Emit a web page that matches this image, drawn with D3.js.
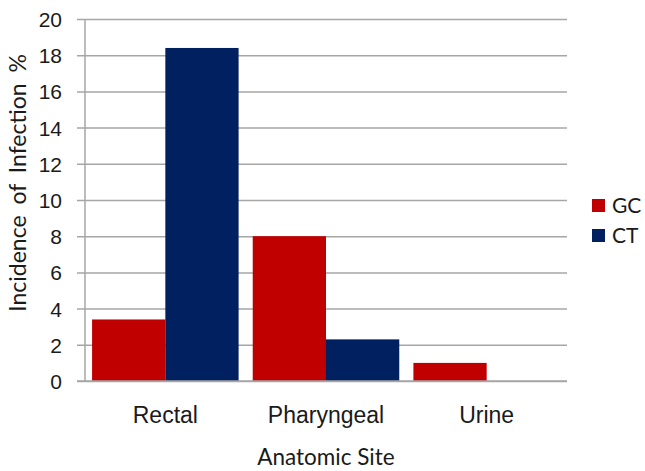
<!DOCTYPE html>
<html>
<head>
<meta charset="utf-8">
<script src="https://cdn.jsdelivr.net/npm/d3@7"></script>
<style>
  html, body { margin: 0; padding: 0; background: #fff; }
  svg { display: block; font-family: Lato, "Open Sans", sans-serif; }
</style>
</head>
<body>
<svg id="chart" width="645" height="471"></svg>
<script>
// Incidence of infection by anatomic site
const sites = ["Rectal", "Pharyngeal", "Urine"];
const seriesNames = ["GC", "CT"];
const gcValues = [3.4, 8.0, 1.0];
const ctValues = [18.4, 2.3, 0];
const yTicks = [0, 2, 4, 6, 8, 10, 12, 14, 16, 18, 20];
const colors = ["#c00000", "#002060"];

const svg = d3.select("#chart");
const plot = { left: 85, right: 567, top: 19, bottom: 381 };

const x = d3.scaleBand()
  .domain(sites)
  .range([plot.left, plot.right])
  .paddingInner(0.088)
  .paddingOuter(0.044);

const xSeries = d3.scaleBand()
  .domain(seriesNames)
  .range([0, x.bandwidth()]);

const y = d3.scaleLinear()
  .domain([0, 20])
  .range([plot.bottom, plot.top]);

const color = d3.scaleOrdinal().domain(seriesNames).range(colors);

// gridlines + left ticks
const yAxis = d3.axisLeft(y)
  .tickValues(yTicks)
  .tickFormat(d3.format("d"));

const gy = svg.append("g")
  .attr("transform", `translate(${plot.left},0)`)
  .call(yAxis);
gy.select(".domain").remove();
gy.selectAll(".tick line")
  .attr("x1", -8)
  .attr("x2", plot.right - plot.left)
  .attr("stroke", "#a6a6a6")
  .attr("stroke-width", 1.5);
gy.selectAll(".tick text")
  .attr("x", -23)
  .attr("dy", "0.36em")
  .attr("fill", "#1a1a1a")
  .style("font-size", "21px");

// vertical axis line
svg.append("line")
  .attr("x1", plot.left).attr("x2", plot.left)
  .attr("y1", y(20)).attr("y2", y(0))
  .attr("stroke", "#a6a6a6")
  .attr("stroke-width", 1.5);

// bars
const rows = sites.map((s, i) => ({ site: s, values: [
  { key: "GC", value: gcValues[i] },
  { key: "CT", value: ctValues[i] }
]}));

const groups = svg.append("g").selectAll("g")
  .data(rows)
  .join("g")
  .attr("transform", d => `translate(${x(d.site)},0)`);

groups.selectAll("rect")
  .data(d => d.values.filter(v => v.value > 0))
  .join("rect")
  .attr("x", d => xSeries(d.key))
  .attr("width", xSeries.bandwidth())
  .attr("y", d => y(d.value))
  .attr("height", d => y(0) - y(d.value))
  .attr("fill", d => color(d.key));

// bottom axis line
svg.append("line")
  .attr("x1", plot.left - 8).attr("x2", plot.right)
  .attr("y1", y(0)).attr("y2", y(0))
  .attr("stroke", "#a6a6a6")
  .attr("stroke-width", 1.5);

// category labels
const xAxis = d3.axisBottom(x).tickSize(0);
const gx = svg.append("g")
  .attr("transform", `translate(0,${plot.bottom})`)
  .call(xAxis);
gx.select(".domain").remove();
gx.selectAll(".tick text")
  .attr("y", 42)
  .attr("dy", 0)
  .attr("fill", "#1a1a1a")
  .style("font-size", "23px");

// axis titles
svg.append("text")
  .attr("x", (plot.left + plot.right) / 2)
  .attr("y", 465)
  .attr("text-anchor", "middle")
  .attr("fill", "#1a1a1a")
  .style("font-size", "22.5px")
  .text("Anatomic Site");

svg.append("text")
  .attr("transform", "translate(26,183) rotate(-90)")
  .attr("text-anchor", "middle")
  .attr("fill", "#1a1a1a")
  .style("font-size", "23px")
  .attr("word-spacing", "5px")
  .text("Incidence of Infection %");

// legend
const legend = svg.append("g").attr("transform", "translate(592,199)");
seriesNames.forEach((name, i) => {
  const row = legend.append("g").attr("transform", `translate(0,${i * 30})`);
  row.append("rect").attr("width", 13).attr("height", 13).attr("fill", color(name));
  row.append("text")
    .attr("x", 20).attr("y", 14)
    .attr("fill", "#1a1a1a")
    .style("font-size", "21px")
    .text(name);
});
</script>
</body>
</html>
